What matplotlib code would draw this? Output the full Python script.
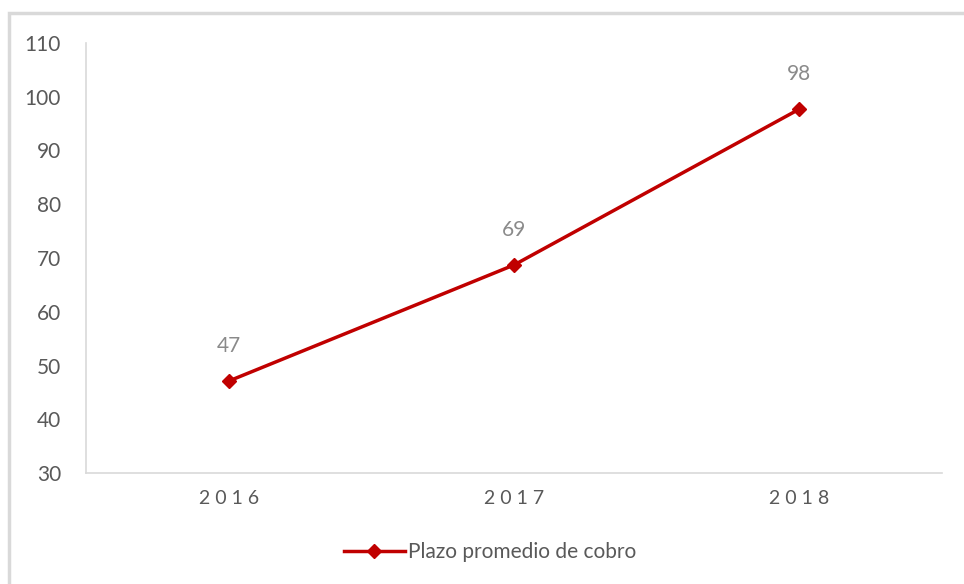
import matplotlib
matplotlib.use("Agg")
import matplotlib.pyplot as plt
from matplotlib.lines import Line2D
from matplotlib.patches import Rectangle

years = ["2016", "2017", "2018"]
plazo = [47.1, 68.7, 97.7]
y_ticks = [30, 40, 50, 60, 70, 80, 90, 100, 110]

plt.rcParams['font.family'] = ['Lato', 'DejaVu Sans']

RED = "#C00000"
GRAY_TXT = "#595959"
GRAY_LBL = "#8A8A8A"
GRAY_LINE = "#D9D9D9"

fig = plt.figure(figsize=(9.64, 5.84), dpi=100)
fig.patches.append(Rectangle((9 / 964, -0.1), 1.1, 1 - 13 / 584 + 0.1,
                             transform=fig.transFigure, fill=False,
                             edgecolor=GRAY_LINE, linewidth=2.5))
ax = fig.add_axes([86 / 964, 1 - 473 / 584, (942 - 86) / 964, (473 - 43) / 584])

x = range(len(years))
ax.plot(x, plazo, color=RED, linewidth=2.5, marker="D", markersize=7.5,
        label="Plazo promedio de cobro")
for xi, v in zip(x, plazo):
    ax.annotate("{:.0f}".format(v), (xi, v), xytext=(0, 18), textcoords="offset points",
                ha="center", va="bottom", color=GRAY_LBL, fontsize=15)

ax.set_xlim(-0.5, 2.5)
ax.set_ylim(30, 110)
ax.set_yticks(y_ticks)
ax.set_xticks(list(x))
ax.set_xticklabels([" ".join(y) for y in years])
ax.tick_params(axis="y", length=0, labelsize=15, labelcolor=GRAY_TXT, pad=18)
ax.tick_params(axis="x", length=0, labelsize=14, labelcolor=GRAY_TXT, pad=12)
for s in ["top", "right"]:
    ax.spines[s].set_visible(False)
for s in ["left", "bottom"]:
    ax.spines[s].set_color(GRAY_LINE)
    ax.spines[s].set_linewidth(1.2)

handle = Line2D([], [], color=RED, linewidth=2.5, marker="D", markersize=7.5)
fig.legend([handle], ["Plazo promedio de cobro"], loc="center",
           bbox_to_anchor=(490 / 964, 1 - 552 / 584), frameon=False,
           fontsize=15, labelcolor=GRAY_TXT, handlelength=2.9, handletextpad=0.15)

fig.savefig("out.png", dpi=100)
